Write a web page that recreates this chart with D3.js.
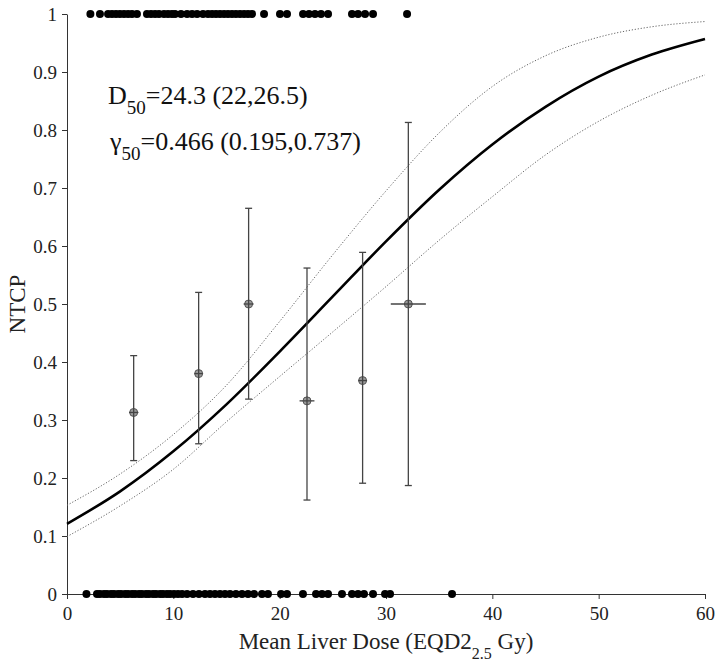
<!DOCTYPE html>
<html>
<head>
<meta charset="utf-8">
<script src="https://cdn.jsdelivr.net/npm/d3@7/dist/d3.min.js"></script>
<style>
  html, body { margin: 0; padding: 0; background: #fff; }
  svg { display: block; font-family: "Liberation Serif", "Times New Roman", serif; }
</style>
</head>
<body>
<svg id="chart" width="723" height="672"></svg>
<script>
// ---------------- data ----------------
const xTickValues = [0, 10, 20, 30, 40, 50, 60];
const xTickLabels = ["0", "10", "20", "30", "40", "50", "60"];
const yTickValues = [0, 0.1, 0.2, 0.3, 0.4, 0.5, 0.6, 0.7, 0.8, 0.9, 1];
const yTickLabels = ["0", "0.1", "0.2", "0.3", "0.4", "0.5", "0.6", "0.7", "0.8", "0.9", "1"];

// fitted curve and its confidence band
const curveDose  = [0, 5, 10, 15, 20, 25, 30, 35, 40, 45, 50, 55, 60];
const curveNTCP  = [0.121, 0.177, 0.246, 0.327, 0.418, 0.513, 0.608, 0.697, 0.775, 0.840, 0.892, 0.930, 0.957];
const curveUpper = [0.153, 0.207, 0.275, 0.360, 0.470, 0.585, 0.695, 0.795, 0.875, 0.928, 0.960, 0.978, 0.987];
const curveLower = [0.099, 0.152, 0.215, 0.297, 0.375, 0.452, 0.530, 0.610, 0.685, 0.757, 0.815, 0.860, 0.895];

// binned observed rates
const binDose    = [6.27, 12.38, 17.08, 22.57, 27.80, 32.10];
const binDoseErr = [0.44, 0.40, 0.47, 0.70, 0.41, 1.65];
const binNTCP    = [0.313, 0.380, 0.500, 0.333, 0.368, 0.500];
const binLow     = [0.230, 0.259, 0.336, 0.162, 0.191, 0.187];
const binHigh    = [0.411, 0.520, 0.665, 0.562, 0.589, 0.813];

// individual patients: toxicity (1) and no toxicity (0)
const doseTox = [2.2, 3.1, 3.86, 4.23, 4.61, 4.98, 5.36, 5.74, 6.11, 6.58,
  7.52, 7.90, 8.28, 8.65, 9.12, 9.50, 9.87, 10.16, 10.72, 11.29,
  11.76, 12.23, 12.79, 13.26, 13.64, 14.01, 14.39, 14.77, 15.14, 15.52,
  15.89, 16.27, 16.65, 17.02, 17.40, 18.53, 20.03, 20.69, 22.20, 22.76,
  23.32, 23.89, 24.55, 26.80, 27.37, 28.03, 28.78, 31.98];
const doseNoTox = [1.83, 2.82, 3.10, 3.48, 3.76, 4.14, 4.42, 4.80, 5.08, 5.46,
  5.74, 6.11, 6.40, 6.77, 7.05, 7.43, 7.71, 8.09, 8.37, 8.75,
  9.03, 9.40, 9.69, 10.06, 10.44, 10.82, 11.29, 11.85, 12.41, 12.98,
  13.45, 13.92, 14.39, 14.86, 15.33, 15.89, 16.46, 17.02, 17.59, 18.34,
  18.90, 20.13, 20.69, 22.19, 23.42, 23.98, 24.55, 25.86, 26.80, 27.37,
  27.93, 28.78, 29.91, 30.38, 36.21];

// ---------------- drawing ----------------
const FONT = '"Liberation Serif", "Times New Roman", serif';
const svg = d3.select("#chart");
const x = d3.scaleLinear().domain([0, 60]).range([67, 705]);
const y = d3.scaleLinear().domain([0, 1]).range([594, 14]);
const axisColor = "#333";

// axes
const xAxis = d3.axisBottom(x).tickValues(xTickValues)
  .tickFormat((d, i) => xTickLabels[i]).tickSize(5).tickSizeOuter(0).tickPadding(4);
const gx = svg.append("g").attr("transform", `translate(0,${y(0)})`).call(xAxis);
const yAxis = d3.axisLeft(y).tickValues(yTickValues)
  .tickFormat((d, i) => yTickLabels[i]).tickSize(5).tickSizeOuter(0).tickPadding(5);
const gy = svg.append("g").attr("transform", `translate(${x(0)},0)`).call(yAxis);
[gx, gy].forEach(g => {
  g.attr("font-family", FONT).attr("font-size", 19);
  g.selectAll("path, line").attr("stroke", axisColor).attr("stroke-width", 1);
  g.selectAll("text").attr("fill", "#222").attr("font-family", FONT).attr("font-size", 19);
});
gx.selectAll("text").attr("dy", "0.92em");

// axis titles
const xt = svg.append("text").attr("x", x(30)).attr("y", 649)
  .attr("text-anchor", "middle").attr("fill", "#222").style("font-size", "23px");
xt.append("tspan").text("Mean Liver Dose (EQD2");
xt.append("tspan").text("2.5").style("font-size", "16px").attr("dy", 10);
xt.append("tspan").text(" Gy)").attr("dy", -10);

svg.append("text").attr("transform", `translate(25,${y(0.5)}) rotate(-90)`)
  .attr("text-anchor", "middle").attr("fill", "#222").style("font-size", "23px").text("NTCP");

// confidence band lines
const lineOf = arr => d3.line().x((d, i) => x(curveDose[i])).y((d, i) => y(arr[i]))
  .curve(d3.curveMonotoneX)(arr);
[curveUpper, curveLower].forEach(arr => {
  svg.append("path").attr("d", lineOf(arr)).attr("fill", "none")
    .attr("stroke", "#666").attr("stroke-width", 1).attr("stroke-dasharray", "1.2,1.8");
});
svg.append("path").attr("d", lineOf(curveNTCP)).attr("fill", "none")
  .attr("stroke", "#000").attr("stroke-width", 2.6);

// patient dots
svg.append("g").selectAll("circle").data(doseTox).join("circle")
  .attr("cx", d => x(d)).attr("cy", y(1)).attr("r", 4).attr("fill", "#000");
svg.append("g").selectAll("circle").data(doseNoTox).join("circle")
  .attr("cx", d => x(d)).attr("cy", y(0)).attr("r", 4).attr("fill", "#000");

// binned points with error bars
const gb = svg.append("g");
binDose.forEach((d, i) => {
  const cx = x(d), cy = y(binNTCP[i]);
  gb.append("circle").attr("cx", cx).attr("cy", cy).attr("r", 4)
    .attr("fill", "#9a9a9a").attr("stroke", "#555").attr("stroke-width", 1);
  const ec = "#444", ew = 1.3;
  gb.append("line").attr("x1", cx).attr("x2", cx).attr("y1", y(binLow[i])).attr("y2", y(binHigh[i]))
    .attr("stroke", ec).attr("stroke-width", ew);
  [binLow[i], binHigh[i]].forEach(v => {
    gb.append("line").attr("x1", cx - 3.5).attr("x2", cx + 3.5).attr("y1", y(v)).attr("y2", y(v))
      .attr("stroke", ec).attr("stroke-width", ew);
  });
  gb.append("line").attr("x1", x(d - binDoseErr[i])).attr("x2", x(d + binDoseErr[i]))
    .attr("y1", cy).attr("y2", cy).attr("stroke", ec).attr("stroke-width", ew);
});

// annotation
const a1 = svg.append("text").attr("x", 108).attr("y", 104).attr("fill", "#111").style("font-size", "26px");
a1.append("tspan").text("D");
a1.append("tspan").text("50").style("font-size", "19px").attr("dy", 10);
a1.append("tspan").text("=24.3 (22,26.5)").attr("dy", -10);
const a2 = svg.append("text").attr("x", 110).attr("y", 150).attr("fill", "#111").style("font-size", "26px");
a2.append("tspan").text("γ");
a2.append("tspan").text("50").style("font-size", "19px").attr("dy", 10);
a2.append("tspan").text("=0.466 (0.195,0.737)").attr("dy", -10);
</script>
</body>
</html>
